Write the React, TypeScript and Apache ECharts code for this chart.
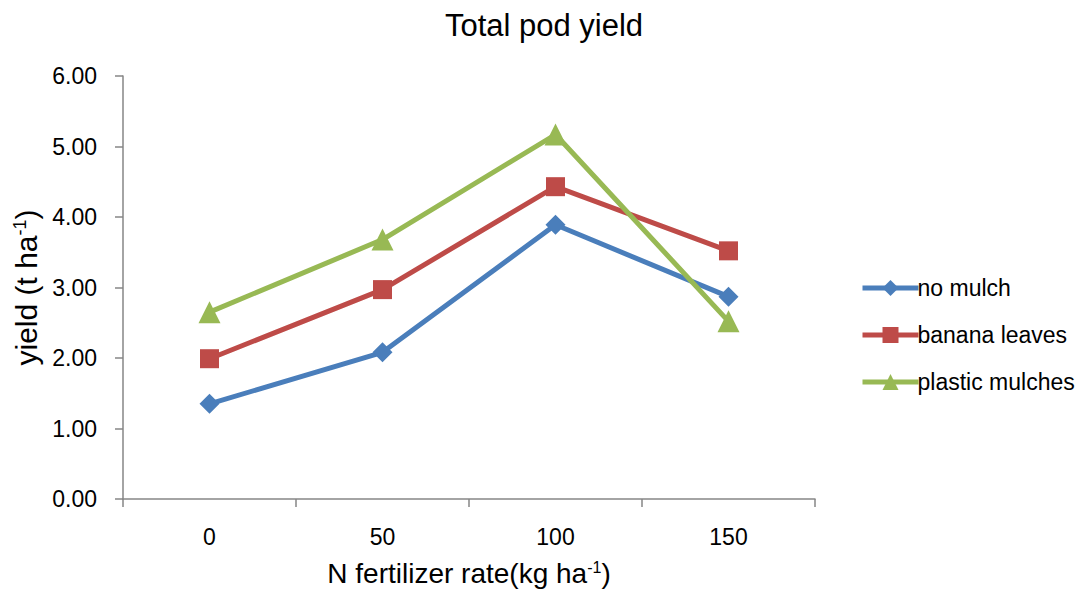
import React, { useEffect, useRef } from "react";
import * as echarts from "echarts";

const categories = ["0", "50", "100", "150"];
const noMulch = [1.35, 2.08, 3.89, 2.87];
const bananaLeaves = [1.99, 2.97, 4.43, 3.52];
const plasticMulches = [2.65, 3.68, 5.17, 2.52];
const yTicks = [0, 1, 2, 3, 4, 5, 6];

const FONT = "'Liberation Sans', Arial, sans-serif";

export default function App() {
  const ref = useRef<HTMLDivElement>(null);
  useEffect(() => {
    if (!ref.current) return;
    const chart = echarts.init(ref.current, null, { renderer: "svg" });
    const mk = (name: string, data: number[], color: string, symbol: string, size: number) => ({
      name,
      type: "line",
      data,
      symbol,
      symbolSize: size,
      lineStyle: { color, width: 5 },
      itemStyle: { color },
      emphasis: { disabled: true },
    });
    chart.setOption({
      animation: false,
      backgroundColor: "#ffffff",
      textStyle: { fontFamily: FONT },
      title: {
        text: "Total pod yield",
        left: 539,
        textAlign: "center",
        top: 5,
        textStyle: { fontSize: 31, fontWeight: "normal", color: "#000", fontFamily: FONT },
      },
      grid: { left: 123, right: 273, top: 76, bottom: 93, containLabel: false, outerBoundsMode: "none" },
      legend: {
        orient: "vertical",
        left: 855,
        top: 271,
        itemWidth: 56,
        itemHeight: 20,
        itemGap: 23,
        lineStyle: { width: 5 },
        textStyle: { fontSize: 23, lineHeight: 24, color: "#000", fontFamily: FONT, padding: [0, 0, 0, -6] },
        data: ["no mulch", "banana leaves", "plastic mulches"],
      },
      xAxis: {
        type: "category",
        data: categories,
        boundaryGap: true,
        axisLine: { lineStyle: { color: "#868686", width: 1.5 } },
        axisTick: { show: true, length: 8, alignWithLabel: false, lineStyle: { color: "#868686", width: 1.5 } },
        axisLabel: { fontSize: 23, color: "#000", margin: 26, fontFamily: FONT },
        name: "{a|N fertilizer rate(kg ha}{s|-1}{a|)}",
        nameLocation: "middle",
        nameGap: 60,
        nameTextStyle: {
          rich: {
            a: { fontSize: 28, color: "#000", fontFamily: FONT },
            s: { fontSize: 16, color: "#000", padding: [0, 0, 12, 0], fontFamily: FONT },
          },
        },
      },
      yAxis: {
        type: "value",
        min: yTicks[0],
        max: yTicks[yTicks.length - 1],
        interval: 1,
        axisLine: { show: true, lineStyle: { color: "#868686", width: 1.5 } },
        axisTick: { show: true, length: 8, lineStyle: { color: "#868686", width: 1.5 } },
        splitLine: { show: false },
        axisLabel: { fontSize: 23, color: "#000", margin: 26, formatter: (v: number) => v.toFixed(2) },
        name: "{a|yield (t ha}{s|-1}{a|)}",
        nameLocation: "middle",
        nameRotate: 90,
        nameGap: 76,
        nameTextStyle: {
          rich: {
            a: { fontSize: 30, color: "#000", fontFamily: FONT },
            s: { fontSize: 18, color: "#000", padding: [0, 0, 13, 0], fontFamily: FONT },
          },
        },
      },
      series: [
        mk("no mulch", noMulch, "#4A7EBB", "diamond", 20),
        mk("banana leaves", bananaLeaves, "#BE4B48", "rect", 19),
        mk("plastic mulches", plasticMulches, "#98B954", "triangle", 22),
      ],
    });
    return () => chart.dispose();
  }, []);
  return <div ref={ref} style={{ position: "fixed", left: 0, top: 0, width: 1088, height: 592 }} />;
}
